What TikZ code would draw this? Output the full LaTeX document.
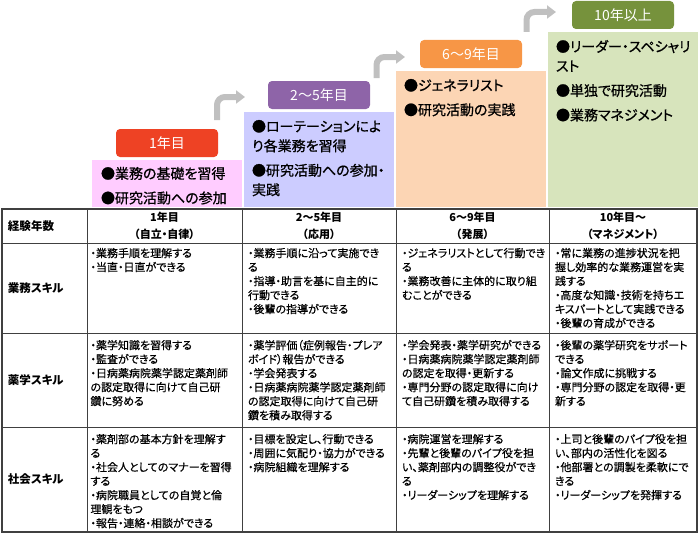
\documentclass[tikz,border=0pt]{standalone}
\usepackage{fontspec}
\setmainfont{Noto Sans CJK JP}[RawFeature=+palt]
\newfontfamily\bodyjp{Noto Sans CJK JP}[RawFeature=+palt, FakeBold=0.5]
\newfontfamily\paneljp{Noto Sans CJK JP}[RawFeature=+palt, FakeBold=0.8]
\usetikzlibrary{positioning,arrows.meta}

\definecolor{lblred}{RGB}{238,66,36}
\definecolor{lblpurple}{RGB}{142,100,168}
\definecolor{lblorange}{RGB}{247,150,70}
\definecolor{lblgreen}{RGB}{118,146,60}
\definecolor{pnlpink}{RGB}{255,204,255}
\definecolor{pnlblue}{RGB}{204,204,255}
\definecolor{pnlpeach}{RGB}{252,213,180}
\definecolor{pnlgreen}{RGB}{215,228,188}
\definecolor{gridgray}{RGB}{64,64,64}
\definecolor{arrgray}{RGB}{192,192,192}

\begin{document}
\begin{tikzpicture}[x=1pt, y=-1pt, inner sep=0pt, outer sep=0pt,
  panel/.style={rectangle, minimum width=150pt, anchor=south west},
  tag/.style={rectangle, rounded corners=4pt, minimum width=102pt, minimum height=28pt, text=white, font=\fontsize{14}{16}\selectfont},
  ptext/.style={align=left, font=\paneljp\fontsize{14}{19.5}\selectfont},
  stepar/.style={draw=arrgray, line width=6pt, rounded corners=8pt, -{Triangle[width=13pt, length=9pt]}},
  cell/.style={rectangle, draw=gridgray, line width=0.8pt},
  head/.style={cell, minimum height=34pt, align=center, font=\bfseries\fontsize{11}{16.5}\selectfont},
  rowlbl/.style={cell, minimum width=85pt, text width=73pt, align=left, font=\bfseries\fontsize{11.5}{13}\selectfont},
  btext/.style={align=left, font=\bodyjp\fontsize{11}{14}\selectfont}]

\useasboundingbox (0,0) rectangle (700,535);

% staircase
\node[panel, fill=pnlpink, minimum height=47pt] (p1) at (92,207) {};
\node[panel, fill=pnlblue, minimum height=95pt, above right=0pt and 2pt of p1.south east] (p2) {};
\node[panel, fill=pnlpeach, minimum height=136pt, above right=0pt and 2pt of p2.south east] (p3) {};
\node[panel, fill=pnlgreen, minimum height=175pt, above right=0pt and 2pt of p3.south east] (p4) {};

\node[tag, fill=lblred, above=3pt of p1.north] (t1) {1年目};
\node[tag, fill=lblpurple, above=3pt of p2.north] (t2) {2～5年目};
\node[tag, fill=lblorange, above=3pt of p3.north] (t3) {6～9年目};
\node[tag, fill=lblgreen, above=3pt of p4.north] (t4) {10年以上};

\node[ptext, below right=7pt and 9pt of p1.north west] (p1txt) {●業務の基礎を習得\\[5pt]●研究活動への参加};
\node[ptext, below right=8pt and 8pt of p2.north west] (p2txt) {●ローテーションによ\\り各業務を習得\\[5pt]●研究活動への参加・\\実践};
\node[ptext, below right=8pt and 8pt of p3.north west] (p3txt) {●ジェネラリスト\\[5pt]●研究活動の実践};
\node[ptext, below right=8pt and 8pt of p4.north west] (p4txt) {●リーダー・スペシャリ\\スト\\[5pt]●単独で研究活動\\[5pt]●業務マネジメント};

\coordinate (up1) at (217,120);
\coordinate (up1end) at (245,97);
\coordinate (up2) at (376.5,78);
\coordinate (up2end) at (405,57);
\coordinate (up3) at (526.5,32);
\coordinate (up3end) at (556,12);
\draw[stepar] (up1) |- (up1end);
\draw[stepar] (up2) |- (up2end);
\draw[stepar] (up3) |- (up3end);

% table
\node[rowlbl, minimum height=34pt, anchor=north west] (yrs) at (2,209) {経験年数};
\node[head, minimum width=155pt, right=0pt of yrs] (yrs1) {1年目\\（自立・自律）};
\node[head, minimum width=154pt, right=0pt of yrs1] (yrs2) {2～5年目\\（応用）};
\node[head, minimum width=153pt, right=0pt of yrs2] (yrs3) {6～9年目\\（発展）};
\node[head, minimum width=148pt, right=0pt of yrs3] (yrs4) {10年目～\\（マネジメント）};

\node[rowlbl, minimum height=90pt, below=0pt of yrs] (work) {業務スキル};
\node[cell, minimum width=155pt, minimum height=90pt, right=0pt of work] (work1) {};
\node[cell, minimum width=154pt, minimum height=90pt, right=0pt of work1] (work2) {};
\node[cell, minimum width=153pt, minimum height=90pt, right=0pt of work2] (work3) {};
\node[cell, minimum width=148pt, minimum height=90pt, right=0pt of work3] (work4) {};

\node[rowlbl, minimum height=94pt, below=0pt of work] (pharm) {薬学スキル};
\node[cell, minimum width=155pt, minimum height=94pt, right=0pt of pharm] (pharm1) {};
\node[cell, minimum width=154pt, minimum height=94pt, right=0pt of pharm1] (pharm2) {};
\node[cell, minimum width=153pt, minimum height=94pt, right=0pt of pharm2] (pharm3) {};
\node[cell, minimum width=148pt, minimum height=94pt, right=0pt of pharm3] (pharm4) {};

\node[rowlbl, minimum height=105pt, below=0pt of pharm] (social) {社会スキル};
\node[cell, minimum width=155pt, minimum height=105pt, right=0pt of social] (social1) {};
\node[cell, minimum width=154pt, minimum height=105pt, right=0pt of social1] (social2) {};
\node[cell, minimum width=153pt, minimum height=105pt, right=0pt of social2] (social3) {};
\node[cell, minimum width=148pt, minimum height=105pt, right=0pt of social3] (social4) {};

\draw[gridgray, line width=1.3pt] (yrs.north west) rectangle (social4.south east);

\node[btext, below right=5pt and 3.5pt of work1.north west] {・業務手順を理解する\\・当直・日直ができる};
\node[btext, below right=5pt and 6pt of work2.north west] {・業務手順に沿って実施でき\\る\\・指導・助言を基に自主的に\\行動できる\\・後輩の指導ができる};
\node[btext, below right=5pt and 6pt of work3.north west] {・ジェネラリストとして行動でき\\る\\・業務改善に主体的に取り組\\むことができる};
\node[btext, below right=5pt and 6pt of work4.north west] {・常に業務の進捗状況を把\\握し効率的な業務運営を実\\践する\\・高度な知識・技術を持ちエ\\キスパートとして実践できる\\・後輩の育成ができる};

\node[btext, below right=7pt and 3.5pt of pharm1.north west] {・薬学知識を習得する\\・監査ができる\\・日病薬病院薬学認定薬剤師\\の認定取得に向けて自己研\\鑽に努める};
\node[btext, below right=7pt and 6pt of pharm2.north west] {・薬学評価（症例報告・プレア\\ボイド）報告ができる\\・学会発表する\\・日病薬病院薬学認定薬剤師\\の認定取得に向けて自己研\\鑽を積み取得する};
\node[btext, below right=7pt and 6pt of pharm3.north west] {・学会発表・薬学研究ができる\\・日病薬病院薬学認定薬剤師\\の認定を取得・更新する\\・専門分野の認定取得に向け\\て自己研鑽を積み取得する};
\node[btext, below right=7pt and 6pt of pharm4.north west] {・後輩の薬学研究をサポート\\できる\\・論文作成に挑戦する\\・専門分野の認定を取得・更\\新する};

\node[btext, below right=7pt and 3.5pt of social1.north west] {・薬剤部の基本方針を理解す\\る\\・社会人としてのマナーを習得\\する\\・病院職員としての自覚と倫\\理観をもつ\\・報告・連絡・相談ができる};
\node[btext, below right=7pt and 6pt of social2.north west] {・目標を設定し、行動できる\\・周囲に気配り・協力ができる\\・病院組織を理解する};
\node[btext, below right=7pt and 6pt of social3.north west] {・病院運営を理解する\\・先輩と後輩のパイプ役を担\\い、薬剤部内の調整役ができ\\る\\・リーダーシップを理解する};
\node[btext, below right=7pt and 6pt of social4.north west] {・上司と後輩のパイプ役を担\\い、部内の活性化を図る\\・他部署との調製を柔軟にで\\きる\\・リーダーシップを発揮する};

\end{tikzpicture}
\end{document}
